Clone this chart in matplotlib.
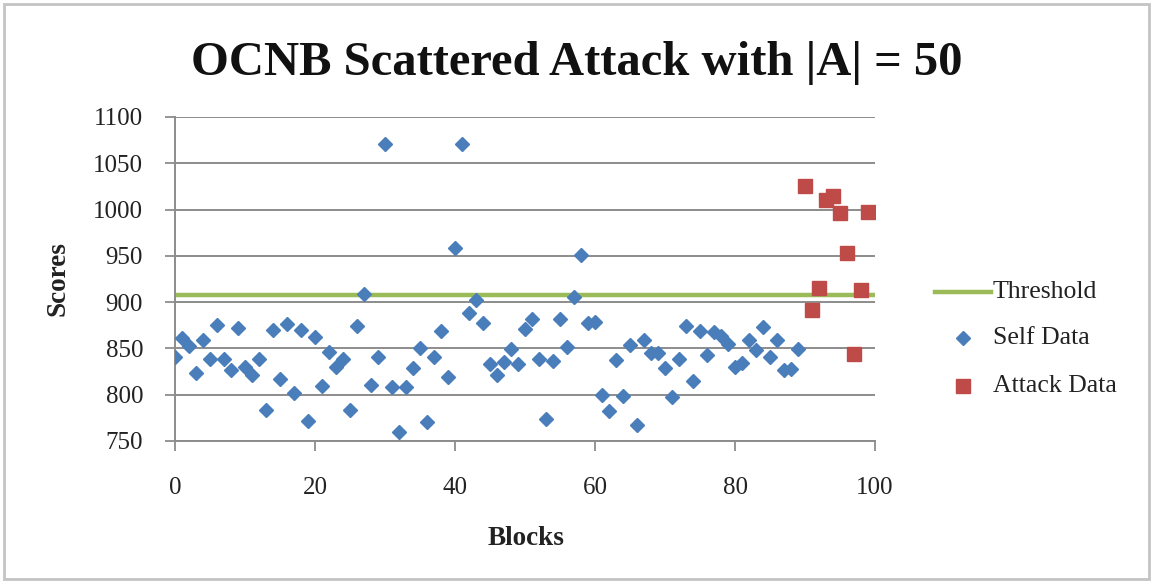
import matplotlib
matplotlib.use("Agg")
import matplotlib.pyplot as plt
from matplotlib.patches import Rectangle
from matplotlib.lines import Line2D

# Per-block scores for the normal traffic (blocks 0-89)
self_blocks = list(range(0, 90))
self_scores = [
    841, 861, 853, 823, 859, 839, 875, 839, 827, 872,
    830, 821, 839, 784, 870, 817, 876, 802, 870, 772,
    862, 809, 846, 830, 839, 783, 874, 909, 810, 841,
    1071, 808, 760, 808, 829, 851, 771, 841, 869, 819,
    959, 1071, 888, 902, 877, 833, 821, 835, 849, 833,
    871, 882, 839, 774, 836, 882, 852, 906, 951, 877,
    879, 800, 782, 837, 799, 854, 767, 859, 845, 845,
    829, 798, 839, 874, 815, 869, 843, 868, 863, 855,
    830, 834, 859, 848, 873, 841, 859, 827, 828, 849,
]

# Scores for the injected attack blocks (blocks 90-99)
attack_blocks = list(range(90, 100))
attack_scores = [1026, 891, 915, 1010, 1015, 996, 953, 844, 913, 997]

threshold = 908

x_ticks = [0, 20, 40, 60, 80, 100]
y_ticks = [750, 800, 850, 900, 950, 1000, 1050, 1100]

legend_labels = ["Threshold", "Self Data", "Attack Data"]

BLUE = "#4A7EBB"
RED = "#BE4B48"
GREEN = "#9BBB59"
GRID = "#8C8C8C"
TEXT = "#222222"
SERIF = ["Liberation Serif", "DejaVu Serif"]

W, H = 1153, 583
fig = plt.figure(figsize=(W / 100, H / 100), dpi=100)


def fx(px):
    return px / W


def fy(py):
    return 1 - py / H


# light frame around the whole chart
fig.patches.append(Rectangle((fx(4), fy(579)), fx(1145), 575 / H,
                             transform=fig.transFigure, fill=False,
                             edgecolor="#C4C4C4", linewidth=2.0))

ax = fig.add_axes([fx(175), fy(441), fx(700), 324 / H])

ax.axhline(threshold, color=GREEN, linewidth=3.2, zorder=2)
ax.plot(self_blocks, self_scores, linestyle="none", marker="D",
        markersize=7.2, color=BLUE, zorder=3)
ax.plot(attack_blocks, attack_scores, linestyle="none", marker="s",
        markersize=10.5, color=RED, zorder=3)

ax.set_xlim(0, 100)
ax.set_ylim(750, 1100)
ax.set_xticks(x_ticks)
ax.set_yticks(y_ticks)
ax.grid(axis="y", color=GRID, linewidth=1.4, zorder=1)
ax.set_axisbelow(True)

for side in ["top", "right"]:
    ax.spines[side].set_visible(False)
for side in ["left", "bottom"]:
    ax.spines[side].set_color(GRID)
    ax.spines[side].set_linewidth(1.4)

ax.tick_params(axis="both", direction="out", length=7, width=1.3,
               color=GRID, labelsize=18, labelcolor=TEXT)
ax.tick_params(axis="x", pad=19)
ax.tick_params(axis="y", pad=16)
for lab in ax.get_xticklabels() + ax.get_yticklabels():
    lab.set_family(SERIF)

ax.set_xlabel("Blocks", family=SERIF, fontsize=19.5, fontweight="bold",
              color=TEXT)
ax.set_ylabel("Scores", family=SERIF, fontsize=19.5, fontweight="bold",
              color=TEXT)
ax.xaxis.set_label_coords((526 - 175) / 700, -(526 - 441) / 324)
ax.yaxis.set_label_coords(-(175 - 70) / 700, 0.5)

fig.text(0.5, fy(63), "OCNB Scattered Attack with |A| = 50", family=SERIF,
         fontsize=35, fontweight="bold", ha="center", va="center",
         color="#111111")

# legend entries placed to the right of the plot area
rows = [292, 338, 386]
fig.add_artist(Line2D([fx(935), fx(991)], [fy(rows[0]), fy(rows[0])],
                      transform=fig.transFigure, color=GREEN, linewidth=3.2))
fig.add_artist(Line2D([fx(963)], [fy(rows[1])], transform=fig.transFigure,
                      linestyle="none", marker="D", markersize=7.2,
                      color=BLUE))
fig.add_artist(Line2D([fx(963)], [fy(rows[2])], transform=fig.transFigure,
                      linestyle="none", marker="s", markersize=10.5,
                      color=RED))
for row, label in zip(rows, legend_labels):
    fig.text(fx(993), fy(row), label, family=SERIF, fontsize=18.5,
             ha="left", va="center", color=TEXT)

fig.savefig("out.png", dpi=100)
